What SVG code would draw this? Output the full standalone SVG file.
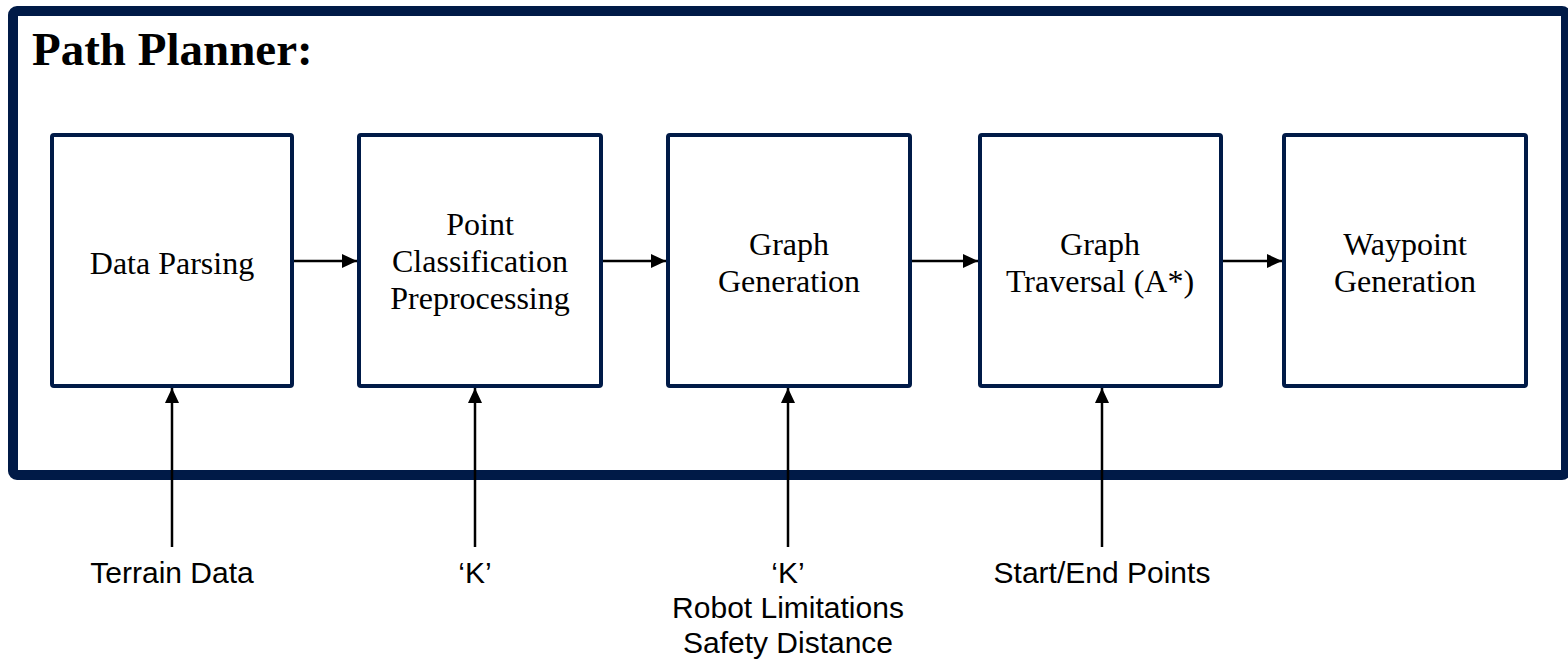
<svg xmlns="http://www.w3.org/2000/svg" width="1568" height="661" viewBox="0 0 1568 661">
<defs>
<style>
.frame{fill:none;stroke:#001a47;stroke-width:10}
.box{fill:#ffffff;stroke:#001a47;stroke-width:4}
.conn{stroke:#000000;stroke-width:2.5;fill:none}
.bt{font-family:"Liberation Serif","Times New Roman",serif;font-size:32px;fill:#000;text-anchor:middle}
.lt{font-family:"Liberation Sans",Arial,sans-serif;font-size:30px;fill:#000;text-anchor:middle}
.title{font-family:"Liberation Serif","Times New Roman",serif;font-size:47px;font-weight:bold;fill:#000}
</style>
<marker id="ah" markerWidth="15" markerHeight="14" refX="15" refY="7" orient="auto" markerUnits="userSpaceOnUse">
<path d="M0,0 L15,7 L0,14 Z" fill="#000"/>
</marker>
</defs>
<rect width="1568" height="661" fill="#ffffff"/>
<g id="frame">
<rect class="frame" x="13" y="11" width="1553" height="464" rx="4"/>
<text class="title" x="32" y="65">Path Planner:</text>
</g>
<g id="node-data-parsing">
<rect class="box" x="52" y="135" width="240" height="251" rx="2"/>
<text class="bt" x="172" y="274">Data Parsing</text>
</g>
<g id="node-point-classification">
<rect class="box" x="359" y="135" width="242" height="251" rx="2"/>
<text class="bt" x="480" y="235">Point</text>
<text class="bt" x="480" y="272">Classification</text>
<text class="bt" x="480" y="309">Preprocessing</text>
</g>
<g id="node-graph-generation">
<rect class="box" x="668" y="135" width="242" height="251" rx="2"/>
<text class="bt" x="789" y="255">Graph</text>
<text class="bt" x="789" y="292">Generation</text>
</g>
<g id="node-graph-traversal">
<rect class="box" x="980" y="135" width="241" height="251" rx="2"/>
<text class="bt" x="1100" y="255">Graph</text>
<text class="bt" x="1100" y="292">Traversal (A*)</text>
</g>
<g id="node-waypoint-generation">
<rect class="box" x="1284" y="135" width="242" height="251" rx="2"/>
<text class="bt" x="1405" y="255">Waypoint</text>
<text class="bt" x="1405" y="292">Generation</text>
</g>
<g id="connectors">
<line class="conn" x1="294" y1="261" x2="357" y2="261" marker-end="url(#ah)"/>
<line class="conn" x1="603" y1="261" x2="666" y2="261" marker-end="url(#ah)"/>
<line class="conn" x1="912" y1="261" x2="978" y2="261" marker-end="url(#ah)"/>
<line class="conn" x1="1223" y1="261" x2="1282" y2="261" marker-end="url(#ah)"/>
<line class="conn" x1="172" y1="547" x2="172" y2="388" marker-end="url(#ah)"/>
<line class="conn" x1="475" y1="547" x2="475" y2="388" marker-end="url(#ah)"/>
<line class="conn" x1="788" y1="547" x2="788" y2="388" marker-end="url(#ah)"/>
<line class="conn" x1="1102" y1="547" x2="1102" y2="388" marker-end="url(#ah)"/>
</g>
<g id="labels">
<text class="lt" x="172" y="583">Terrain Data</text>
<text class="lt" x="475" y="583">‘K’</text>
<text class="lt" x="788" y="583">‘K’</text>
<text class="lt" x="788" y="618">Robot Limitations</text>
<text class="lt" x="788" y="653">Safety Distance</text>
<text class="lt" x="1102" y="583">Start/End Points</text>
</g>
</svg>
